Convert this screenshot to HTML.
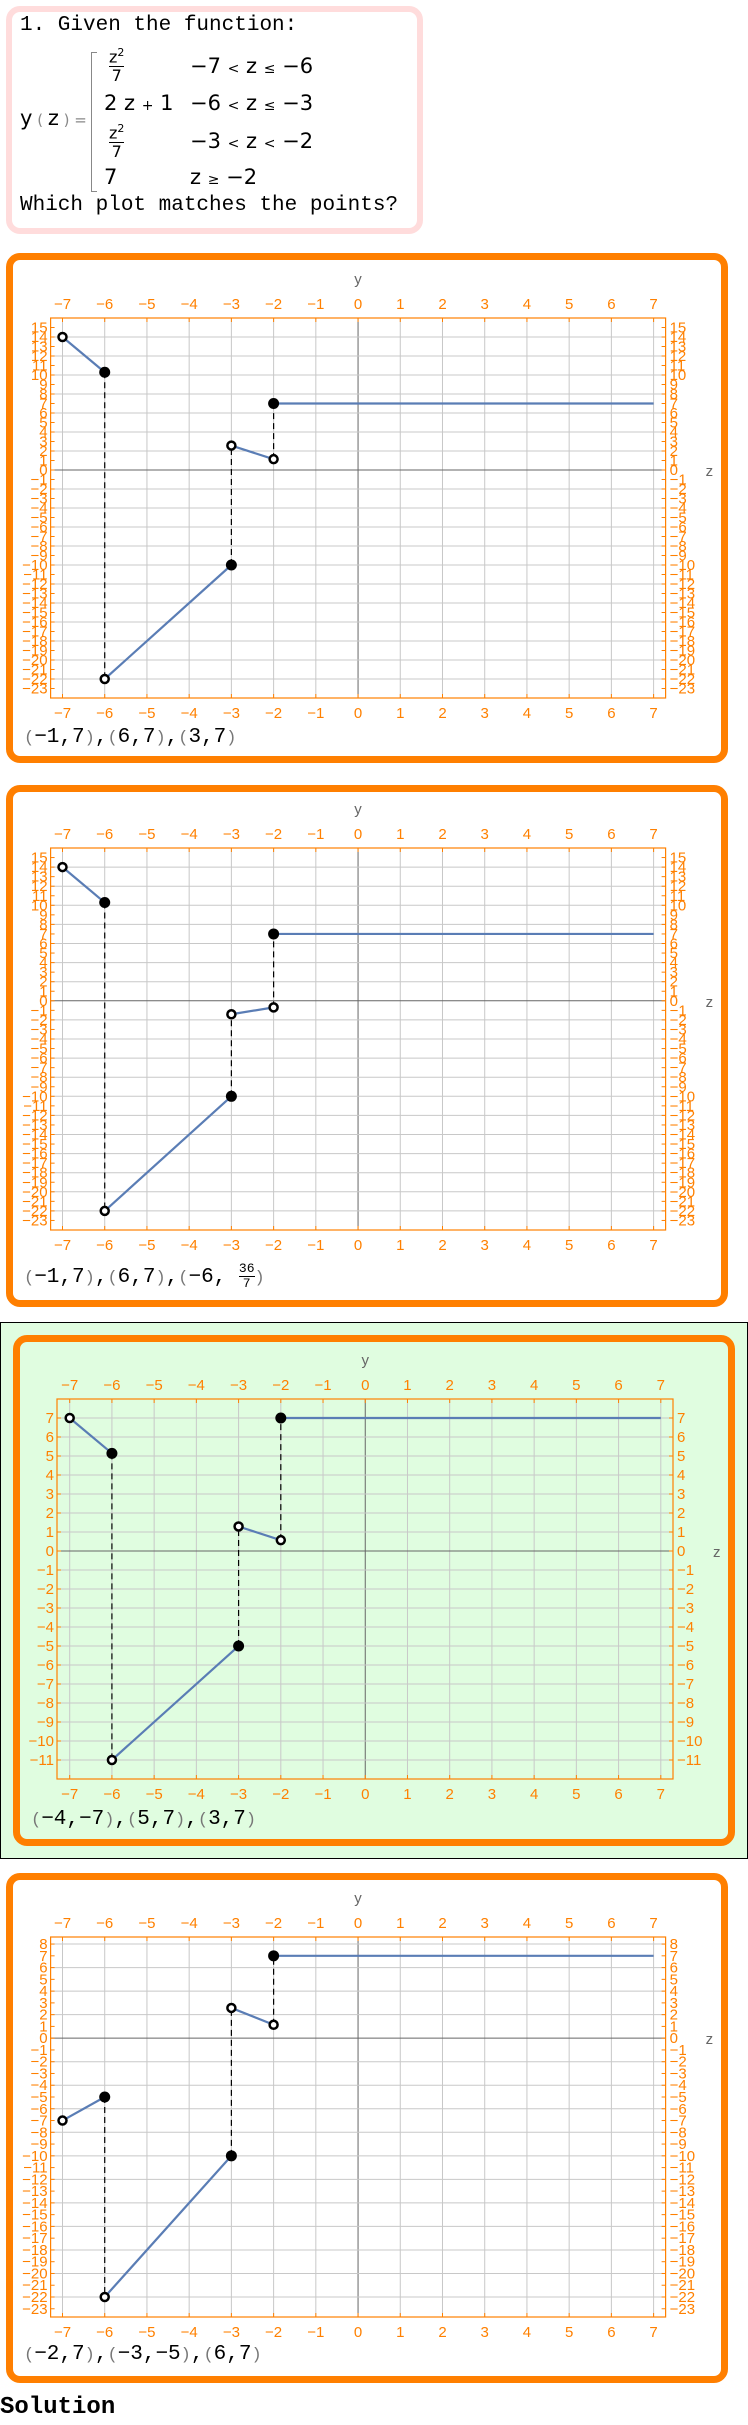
<!DOCTYPE html>
<html><head><meta charset="utf-8">
<style>
body{margin:0;width:748px;height:2425px;position:relative;background:#fff;overflow:hidden;font-family:"Liberation Sans",sans-serif}
.abs{position:absolute}
.hdr{left:6px;top:6px;width:405px;height:216px;border:6px solid #ffdcdc;border-radius:14px}
.mono{font-family:"Liberation Mono",monospace;font-size:21px;color:#000}
.obox{border:7px solid #ff7f00;border-radius:14px;box-sizing:border-box}
.pts{font-family:"Liberation Mono",monospace;font-size:21px}
.par{color:#777;font-size:17px}
</style></head><body>
<div class="abs hdr"></div>
<div class="abs mono" style="left:20px;top:14px">1. Given the function:</div>
<div class="abs" style="left:20px;top:40px;width:320px;height:160px;font-family:'DejaVu Sans',sans-serif;font-size:21px">
 <div class="abs" style="left:0;top:66px">y<span style="color:#888;font-size:15px"> ( </span>z<span style="color:#888;font-size:15px"> ) = </span></div>
 <div class="abs" style="left:71px;top:12px;width:5px;height:138px;border:1.5px solid #888;border-right:none"></div>
 <div class="abs" style="left:89px;top:4px;font-size:16px;text-align:center;line-height:18px">z<sup style="font-size:11px">2</sup><div style="border-top:1px solid #000">7</div></div>
 <div class="abs" style="left:84px;top:51px">2 z <span style="font-size:14px">+</span> 1</div>
 <div class="abs" style="left:89px;top:80px;font-size:16px;text-align:center;line-height:18px">z<sup style="font-size:11px">2</sup><div style="border-top:1px solid #000">7</div></div>
 <div class="abs" style="left:84px;top:125px">7</div>
 <div class="abs" style="left:170px;top:14px">−7 <span style="font-size:14px">&lt;</span> z <span style="font-size:14px">≤</span> −6</div>
 <div class="abs" style="left:170px;top:51px">−6 <span style="font-size:14px">&lt;</span> z <span style="font-size:14px">≤</span> −3</div>
 <div class="abs" style="left:170px;top:89px">−3 <span style="font-size:14px">&lt;</span> z <span style="font-size:14px">&lt;</span> −2</div>
 <div class="abs" style="left:170px;top:125px">z <span style="font-size:14px">≥</span> −2</div>
</div>
<div class="abs mono" style="left:20px;top:194px">Which plot matches the points?</div>

<div class="abs obox" style="left:6px;top:253px;width:722px;height:510px"></div>
<div class="abs obox" style="left:6px;top:785px;width:722px;height:522px"></div>
<div class="abs" style="left:0;top:1322px;width:746px;height:535px;border:1px solid #000;background:#e0fde0"></div>
<div class="abs obox" style="left:13px;top:1335px;width:722px;height:511px"></div>
<div class="abs obox" style="left:6px;top:1873px;width:722px;height:510px"></div>

<div class="abs pts" style="left:24px;top:726px"><span class="par">(</span>−1,7<span class="par">)</span>,<span class="par">(</span>6,7<span class="par">)</span>,<span class="par">(</span>3,7<span class="par">)</span></div>
<div class="abs pts" style="left:24px;top:1262px"><span class="par">(</span>−1,7<span class="par">)</span>,<span class="par">(</span>6,7<span class="par">)</span>,<span class="par">(</span>−6, <span style="display:inline-block;vertical-align:middle;text-align:center;font-size:13px;line-height:14px">36<br><span style="border-top:1px solid #000;display:block">7</span></span><span class="par">)</span></div>
<div class="abs pts" style="left:31px;top:1808px"><span class="par">(</span>−4,−7<span class="par">)</span>,<span class="par">(</span>5,7<span class="par">)</span>,<span class="par">(</span>3,7<span class="par">)</span></div>
<div class="abs pts" style="left:24px;top:2343px"><span class="par">(</span>−2,7<span class="par">)</span>,<span class="par">(</span>−3,−5<span class="par">)</span>,<span class="par">(</span>6,7<span class="par">)</span></div>
<div class="abs" style="left:0;top:2394px;font-family:'Liberation Mono',monospace;font-weight:bold;font-size:24px">Solution</div>

<svg id="plots" class="abs" style="left:0;top:0" width="748" height="2425"></svg>
<script>
// z ticks shared
const zTicks = [-7,-6,-5,-4,-3,-2,-1,0,1,2,3,4,5,6,7];
// Panel data: point z, point y, open(1)/filled(0)
const p1Z = [-7,-6,-6,-3,-3,-2,-2,7];
const p1Y = [14,10.29,-22,-10,2.57,1.14,7,7];
const p2Z = [-7,-6,-6,-3,-3,-2,-2,7];
const p2Y = [14,10.29,-22,-10,-1.41,-0.69,7,7];
const p3Z = [-7,-6,-6,-3,-3,-2,-2,7];
const p3Y = [7,5.14,-11,-5,1.29,0.57,7,7];
const p4Z = [-7,-6,-6,-3,-3,-2,-2,7];
const p4Y = [-7,-5,-22,-10,2.57,1.14,7,7];
const openFlags = [1,0,1,0,1,1,0,-1];
const p1YTicks = [15,14,13,12,11,10,9,8,7,6,5,4,3,2,1,0,-1,-2,-3,-4,-5,-6,-7,-8,-9,-10,-11,-12,-13,-14,-15,-16,-17,-18,-19,-20,-21,-22,-23];
const p3YTicks = [7,6,5,4,3,2,1,0,-1,-2,-3,-4,-5,-6,-7,-8,-9,-10,-11];
const p4YTicks = [8,7,6,5,4,3,2,1,0,-1,-2,-3,-4,-5,-6,-7,-8,-9,-10,-11,-12,-13,-14,-15,-16,-17,-18,-19,-20,-21,-22,-23];

const NS='http://www.w3.org/2000/svg';
const root=document.getElementById('plots');
function mk(tag,attrs,parent){const e=document.createElementNS(NS,tag);for(const k in attrs)e.setAttribute(k,attrs[k]);(parent||root).appendChild(e);return e;}
function fmt(v){return v<0?'−'+(-v):''+v;}

function drawPanel(name,L,R,T,B,zAt7L,zAt7R,ymin,ymax,gridStep,yTicks,Z,Y){
  const g=mk('g',{});
  
  
  const unit=(zAt7R-zAt7L)/14;
  const sx=z=>zAt7L+(z+7)*unit;
  const sy=y=>B-(y-ymin)/(ymax-ymin)*(B-T);
  zTicks.forEach(z=>{const l=mk('line',{x1:sx(z),x2:sx(z),y1:T,y2:B,stroke:z===0?'#666':'#c8c8c8','stroke-width':1},g);
    
    });
  for(let y=Math.ceil(ymin/gridStep)*gridStep;y<=ymax;y+=gridStep){const l=mk('line',{x1:L,x2:R,y1:sy(y),y2:sy(y),stroke:y===0?'#666':'#c8c8c8','stroke-width':1},g);
    
    }
  const fr=mk('rect',{x:L,y:T,width:R-L,height:B-T,fill:'none',stroke:'#ff8000','stroke-width':1.2},g);
  
  
  zTicks.forEach(z=>{
    [T-9,B+20].forEach(yy=>{const t=mk('text',{x:sx(z),y:yy,'text-anchor':'middle',fill:'#ff8000','font-size':15},g);t.textContent=fmt(z);
      
      });
    mk('line',{x1:sx(z),x2:sx(z),y1:T,y2:T+4,stroke:'#ff8000'},g);
    mk('line',{x1:sx(z),x2:sx(z),y1:B,y2:B-4,stroke:'#ff8000'},g);
  });
  yTicks.forEach(y=>{
    const a=mk('text',{x:L-3,y:sy(y)+5,'text-anchor':'end',fill:'#ff8000','font-size':15},g);a.textContent=fmt(y);
    
    
    const b=mk('text',{x:R+4,y:sy(y)+5,'text-anchor':'start',fill:'#ff8000','font-size':15},g);b.textContent=fmt(y);
    
    
    mk('line',{x1:L,x2:L+4,y1:sy(y),y2:sy(y),stroke:'#ff8000'},g);
    mk('line',{x1:R,x2:R-4,y1:sy(y),y2:sy(y),stroke:'#ff8000'},g);
  });
  const yt=mk('text',{x:sx(0),y:T-34,'text-anchor':'middle',fill:'#666','font-size':15},g);yt.textContent='y';
  
  
  const zt=mk('text',{x:R+40,y:sy(0)+6,fill:'#666','font-size':15},g);zt.textContent='z';
  
  
  [[1,2],[3,4],[5,6]].forEach(([a,b])=>{const l=mk('line',{x1:sx(Z[a]),x2:sx(Z[b]),y1:sy(Y[a]),y2:sy(Y[b]),stroke:'#000','stroke-width':1.2,'stroke-dasharray':'6,4'},g);
    
    });
  [[0,1],[2,3],[4,5],[6,7]].forEach(([a,b])=>{const l=mk('line',{x1:sx(Z[a]),x2:sx(Z[b]),y1:sy(Y[a]),y2:sy(Y[b]),stroke:'#5a7db5','stroke-width':2.2},g);
    
    });
  Z.forEach((z,i)=>{if(openFlags[i]<0)return;
    const c=mk('circle',{cx:sx(z),cy:sy(Y[i]),r:openFlags[i]?4:5.5,fill:openFlags[i]?'#fff':'#000',stroke:'#000','stroke-width':openFlags[i]?2.5:0},g);
    
    });
}
drawPanel('option-1-chart',50.6,665.6,318,698,62.5,653.6,-24,16,2,p1YTicks,p1Z,p1Y);
drawPanel('option-2-chart',50.6,665.6,848,1230,62.5,653.6,-24,16,2,p1YTicks,p2Z,p2Y);
drawPanel('option-3-chart',57,673,1399,1779,69.7,660.8,-12,8,1,p3YTicks,p3Z,p3Y);
drawPanel('option-4-chart',50.6,665.6,1937,2317,62.5,653.6,-23.7,8.6,2,p4YTicks,p4Z,p4Y);
</script>
</body></html>
